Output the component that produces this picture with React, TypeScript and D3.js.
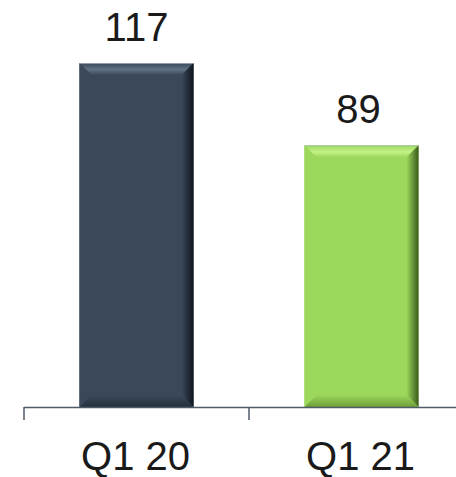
import React from "react";
import * as d3 from "d3";

const categories = ["Q1 20", "Q1 21"];
const values = [117, 89];
const faceColors = ["#3a4859", "#9bd85b"];
const lightColors = ["#607287", "#c4f287"];
const darkColors = ["#0f161e", "#3b5a1c"];
const bottomColors = ["#27313d", "#6f9f3a"];

const W = 456;
const H = 477;

export default function App() {
  const x = d3
    .scaleBand<string>()
    .domain(categories)
    .range([24, 474])
    .paddingInner(0.493)
    .paddingOuter(0.2465);
  const y = d3.scaleLinear().domain([0, 117]).range([407, 63]);
  const bev = 12;
  const step = x.step();
  const ticks = [0, 1, 2].map((i) => 24 + i * step);

  return (
    <svg width={W} height={H} style={{ position: "absolute", left: 0, top: 0, display: "block" }}>
      <defs>
        {categories.map((c, i) => (
          <React.Fragment key={c}>
            <linearGradient id={`top${i}`} x1="0" y1="0" x2="0" y2="1">
              <stop offset="0" stopColor={faceColors[i]} />
              <stop offset="0.55" stopColor={lightColors[i]} />
              <stop offset="1" stopColor={faceColors[i]} />
            </linearGradient>
            <linearGradient id={`right${i}`} x1="0" y1="0" x2="1" y2="0">
              <stop offset="0" stopColor={faceColors[i]} />
              <stop offset="1" stopColor={darkColors[i]} />
            </linearGradient>
            <linearGradient id={`bottom${i}`} x1="0" y1="0" x2="0" y2="1">
              <stop offset="0" stopColor={faceColors[i]} />
              <stop offset="1" stopColor={bottomColors[i]} />
            </linearGradient>
            <linearGradient id={`left${i}`} x1="0" y1="0" x2="1" y2="0">
              <stop offset="0" stopColor={faceColors[i]} />
              <stop offset="1" stopColor={faceColors[i]} />
            </linearGradient>
          </React.Fragment>
        ))}
      </defs>
      {categories.map((c, i) => {
        const x0 = x(c)!;
        const x1 = x0 + x.bandwidth();
        const y0 = y(values[i]);
        const y1 = y(0);
        const p = (pts: number[][]) => pts.map((q) => q.join(",")).join(" ");
        return (
          <g key={c}>
            <rect x={x0} y={y0} width={x1 - x0} height={y1 - y0} fill={faceColors[i]} />
            <polygon
              points={p([[x0, y0], [x1, y0], [x1 - bev, y0 + bev], [x0 + bev, y0 + bev]])}
              fill={`url(#top${i})`}
            />
            <polygon
              points={p([[x1, y0], [x1, y1], [x1 - bev, y1 - bev], [x1 - bev, y0 + bev]])}
              fill={`url(#right${i})`}
            />
            <polygon
              points={p([[x0, y1], [x1, y1], [x1 - bev, y1 - bev], [x0 + bev, y1 - bev]])}
              fill={`url(#bottom${i})`}
            />
            <polygon
              points={p([[x0, y0], [x0 + bev, y0 + bev], [x0 + bev, y1 - bev], [x0, y1]])}
              fill={`url(#left${i})`}
            />
            <line x1={x0} x2={x1} y1={y0 + 0.5} y2={y0 + 0.5} stroke="#b8bec6" strokeWidth={1} opacity={0.7} />
            <text
              x={x0 + x.bandwidth() / 2 - (i === 1 ? 3 : 0)}
              y={y0 - 22}
              textAnchor="middle"
              fontFamily="'Liberation Sans', Arial, sans-serif"
              fontSize={40}
              fill="#1a1a1a"
            >
              {values[i]}
            </text>
            <text
              x={x0 + x.bandwidth() / 2 - 1}
              y={470}
              textAnchor="middle"
              fontFamily="'Liberation Sans', Arial, sans-serif"
              fontSize={40}
              fill="#1a1a1a"
            >
              {c}
            </text>
          </g>
        );
      })}
      <line x1={24} x2={W} y1={407.5} y2={407.5} stroke="#4f5b69" strokeWidth={1.5} />
      {ticks.map((t) => (
        <line key={t} x1={t} x2={t} y1={407} y2={420} stroke="#4f5b69" strokeWidth={1.5} />
      ))}
    </svg>
  );
}
